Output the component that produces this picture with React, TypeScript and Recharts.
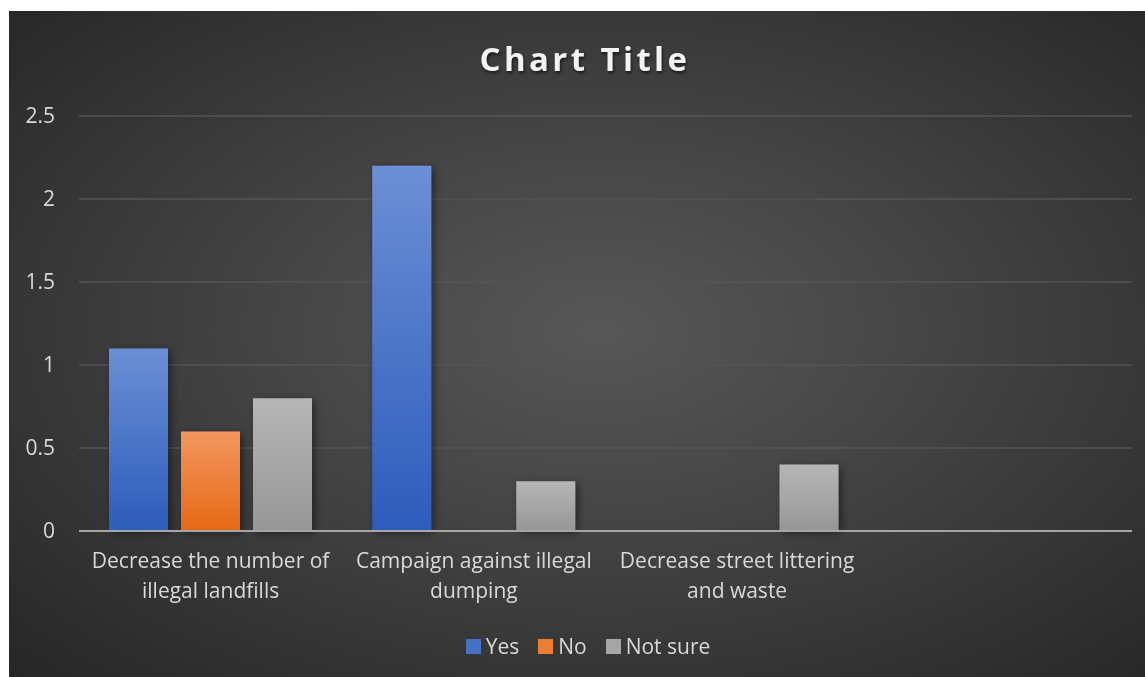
import { BarChart, Bar, XAxis, YAxis, CartesianGrid, Legend } from 'recharts'

const categories = [
  'Decrease the number of illegal landfills',
  'Campaign against illegal dumping',
  'Decrease street littering and waste',
  '',
]
const yesValues = [1.1, 2.2, 0, 0]
const noValues = [0.6, 0, 0, 0]
const notSureValues = [0.8, 0.3, 0.4, 0]
const yTicks = [0, 0.5, 1, 1.5, 2, 2.5]

const seriesNames = ['Yes', 'No', 'Not sure']

const data = categories.map((name, i) => ({
  name,
  yes: yesValues[i],
  no: noValues[i],
  notSure: notSureValues[i],
}))

const FONT = '"Open Sans", "Noto Sans", sans-serif'
const W = 1136
const H = 666
const LABEL_SIZE = 21

let ctx: CanvasRenderingContext2D | null = null
const measure = (s: string) => {
  if (!ctx) ctx = document.createElement('canvas').getContext('2d')
  if (!ctx) return s.length * 10
  ctx.font = `${LABEL_SIZE}px ${FONT}`
  return ctx.measureText(s).width
}

const wrap = (label: string, maxW: number) => {
  const words = label.split(' ')
  const lines: string[] = []
  let cur = ''
  words.forEach((w) => {
    const next = cur ? cur + ' ' + w : w
    if (cur && measure(next) > maxW) {
      lines.push(cur)
      cur = w
    } else cur = next
  })
  if (cur) lines.push(cur)
  return lines
}

// two-line category labels under the axis
const CategoryTick = (props: any) => {
  const { x, y, payload } = props
  if (!payload.value) return null
  const lines = wrap(payload.value, 255)
  return (
    <text
      x={x}
      y={y + 37}
      textAnchor="middle"
      fill="#d9d9d9"
      fontSize={LABEL_SIZE}
      fontFamily={FONT}
    >
      {lines.map((l, i) => (
        <tspan key={i} x={x} dy={i === 0 ? 0 : 30}>
          {l}
        </tspan>
      ))}
    </text>
  )
}

const ValueTick = (props: any) => {
  const { x, y, payload } = props
  return (
    <text
      x={x}
      y={y + 7}
      textAnchor="end"
      fill="#d9d9d9"
      fontSize={LABEL_SIZE}
      fontFamily={FONT}
    >
      {payload.value}
    </text>
  )
}

const legendColors = ['#4472c4', '#ed7d31', '#a5a5a5']

const renderLegend = () => (
  <div
    style={{
      display: 'flex',
      justifyContent: 'center',
      alignItems: 'center',
      fontFamily: FONT,
      fontSize: LABEL_SIZE,
      color: '#d9d9d9',
      paddingLeft: 54,
    }}
  >
    {seriesNames.map((s, i) => (
      <div key={s} style={{ display: 'flex', alignItems: 'center', marginRight: 19 }}>
        <span
          style={{
            width: 15,
            height: 15,
            background: legendColors[i],
            display: 'inline-block',
            marginRight: 5,
          }}
        />
        {s}
      </div>
    ))}
  </div>
)

export default function App() {
  return (
    <div
      style={{
        position: 'fixed',
        left: 9,
        top: 11,
        width: W,
        height: H,
        background:
          'radial-gradient(ellipse farthest-corner at 52% 48%, #575757 0%, #474747 35%, #262626 100%)',
      }}
    >
      <div
        style={{
          position: 'absolute',
          top: 25,
          left: 8,
          width: W,
          textAlign: 'center',
          fontFamily: FONT,
          fontWeight: 700,
          fontSize: 33,
          letterSpacing: 3.4,
          color: '#f2f2f2',
          textShadow: '1px 2px 3px rgba(0,0,0,0.6)',
        }}
      >
        Chart Title
      </div>
      <BarChart
        width={W}
        height={H}
        data={data}
        margin={{ top: 105, right: 13, bottom: 9, left: 0 }}
        barCategoryGap={30}
        barGap={13}
        style={{ position: 'absolute', left: 0, top: 0 }}
      >
        <defs>
          <linearGradient id="gYes" x1="0" y1="0" x2="0" y2="1">
            <stop offset="0%" stopColor="#6c8fd5" />
            <stop offset="100%" stopColor="#2c5cbb" />
          </linearGradient>
          <linearGradient id="gNo" x1="0" y1="0" x2="0" y2="1">
            <stop offset="0%" stopColor="#f2975f" />
            <stop offset="100%" stopColor="#e66814" />
          </linearGradient>
          <linearGradient id="gNs" x1="0" y1="0" x2="0" y2="1">
            <stop offset="0%" stopColor="#b6b6b6" />
            <stop offset="100%" stopColor="#969696" />
          </linearGradient>
          <filter id="shadow" x="-20%" y="-20%" width="150%" height="140%">
            <feDropShadow dx="3" dy="2" stdDeviation="4" floodColor="#000" floodOpacity="0.45" />
          </filter>
        </defs>
        <CartesianGrid vertical={false} stroke="#545454" strokeWidth={1.5} />
        <XAxis
          dataKey="name"
          height={101}
          axisLine={{ stroke: '#a6a6a6', strokeWidth: 2 }}
          tickLine={false}
          tickSize={0}
          tickMargin={0}
          interval={0}
          tick={<CategoryTick />}
        />
        <YAxis
          width={70}
          domain={[0, 2.5]}
          ticks={yTicks}
          axisLine={false}
          tickLine={false}
          tickSize={0}
          tickMargin={24}
          tick={<ValueTick />}
        />
        <Legend verticalAlign="bottom" height={36} content={renderLegend} />
        <Bar dataKey="yes" name="Yes" fill="url(#gYes)" filter="url(#shadow)" isAnimationActive={false} />
        <Bar dataKey="no" name="No" fill="url(#gNo)" filter="url(#shadow)" isAnimationActive={false} />
        <Bar dataKey="notSure" name="Not sure" fill="url(#gNs)" filter="url(#shadow)" isAnimationActive={false} />
      </BarChart>
    </div>
  )
}
